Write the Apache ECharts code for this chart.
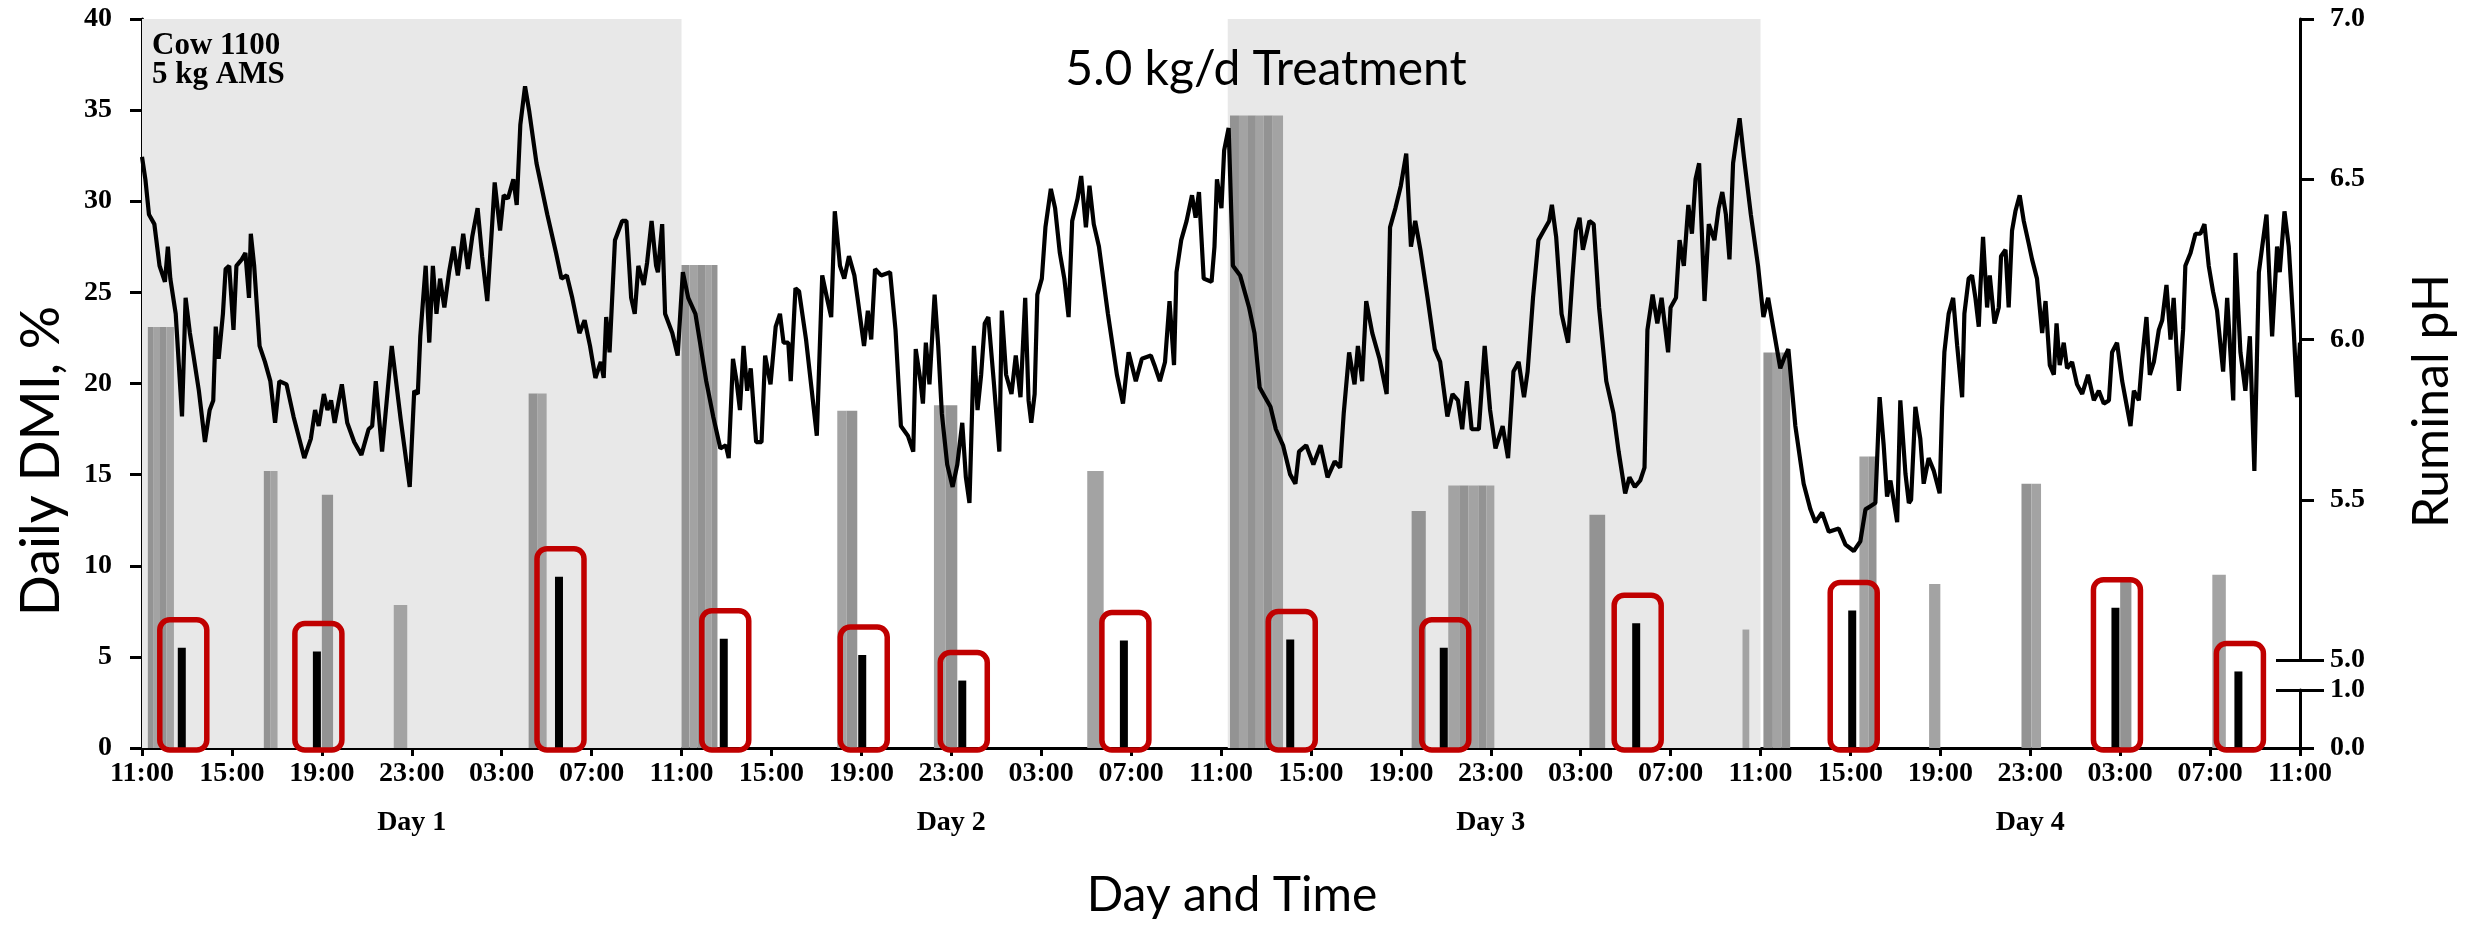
<!DOCTYPE html>
<html>
<head>
<meta charset="utf-8">
<script src="https://cdn.jsdelivr.net/npm/echarts@6/dist/echarts.min.js"></script>
<style>
html,body{margin:0;padding:0;background:#fff;}
#c{width:2483px;height:925px;}
</style>
</head>
<body>
<div id="c"></div>
<script>
// ---------------- data ----------------
const xTickLabels = ['11:00','15:00','19:00','23:00','03:00','07:00',
  '11:00','15:00','19:00','23:00','03:00','07:00',
  '11:00','15:00','19:00','23:00','03:00','07:00',
  '11:00','15:00','19:00','23:00','03:00','07:00','11:00'];
const dayLabels = ['Day 1','Day 2','Day 3','Day 4'];

// shaded treatment periods (hours from start)
const shadeStart = [0, 48.3];
const shadeEnd   = [24, 72];

// grey DMI bars (hours from start, DMI %)
const greyStart  = [0.26,0.52,0.80,1.08, 5.42,5.72, 8.0, 11.2, 17.2,17.6,
  24.0,24.35,24.7,25.05,25.35, 30.93,31.35, 35.23,35.75, 42.05,
  48.4,48.8,49.2,49.55,49.9,50.3, 56.48, 58.11,58.6,59.0,59.45,59.8,
  64.39, 71.2, 72.13,72.55,72.95, 76.4,76.8, 79.5, 83.61,84.05, 88.0, 92.1];
const greyEnd    = [0.52,0.80,1.08,1.42, 5.72,6.03, 8.5, 11.8, 17.6,18.0,
  24.35,24.7,25.05,25.35,25.6, 31.35,31.82, 35.75,36.27, 42.78,
  48.8,49.2,49.55,49.9,50.3,50.76, 57.11, 58.6,59.0,59.45,59.8,60.16,
  65.09, 71.5, 72.55,72.95,73.32, 76.8,77.16, 80.0, 84.05,84.48, 88.5, 92.7];
const greyHeight = [23.1,23.1,23.1,23.1, 15.2,15.2, 13.9, 7.85, 19.45,19.45,
  26.5,26.5,26.5,26.5,26.5, 18.5,18.5, 18.8,18.8, 15.2,
  34.7,34.7,34.7,34.7,34.7,34.7, 13.0, 14.4,14.4,14.4,14.4,14.4,
  12.8, 6.5, 21.7,21.7,21.7, 16.0,16.0, 9.0, 14.5,14.5, 9.2, 9.5];

// black (highlighted) DMI bars
const blackTime  = [1.77, 7.78, 18.55, 25.88, 32.04, 36.49, 43.68, 51.08, 57.91, 66.47, 76.08, 87.79, 93.26];
const blackValue = [5.5, 5.3, 9.4, 6.0, 5.1, 3.7, 5.9, 5.95, 5.5, 6.85, 7.55, 7.7, 4.2];

// ruminal pH trace
const phTime = [
0.00,0.15,0.31,0.55,0.78,1.02,1.15,1.26,1.50,1.78,1.94,2.13,2.29,2.53,2.80,3.01,3.17,3.28,3.41,3.60,
3.72,3.88,4.07,4.20,4.44,4.60,4.76,4.84,4.99,5.23,5.47,5.71,5.92,6.11,6.43,6.74,7.22,7.51,7.70,7.86,
8.09,8.25,8.41,8.57,8.89,9.13,9.44,9.76,10.08,10.24,10.40,10.68,11.11,11.51,11.91,12.11,12.27,12.38,12.62,12.78,
12.94,13.10,13.26,13.45,13.66,13.86,14.05,14.29,14.50,14.69,14.93,15.13,15.36,15.56,15.69,15.93,16.09,16.28,16.52,16.67,
16.83,17.04,17.23,17.55,18.03,18.42,18.66,18.90,19.14,19.46,19.69,19.93,20.17,20.41,20.54,20.65,20.80,21.04,21.36,21.55,
21.76,21.92,22.08,22.32,22.47,22.67,22.87,22.95,23.14,23.27,23.59,23.83,24.06,24.30,24.62,25.10,25.41,25.73,25.97,26.10,
26.29,26.45,26.60,26.76,26.92,27.08,27.32,27.56,27.72,27.96,28.19,28.38,28.54,28.75,28.86,29.07,29.23,29.54,30.02,30.26,
30.50,30.66,30.82,31.05,31.24,31.45,31.69,31.85,32.12,32.29,32.44,32.61,32.88,33.28,33.52,33.76,34.07,34.31,34.42,34.63,
34.74,34.87,35.03,35.26,35.42,35.58,35.82,36.06,36.27,36.49,36.65,36.81,37.01,37.17,37.33,37.49,37.65,37.89,38.14,38.25,
38.44,38.68,38.87,39.08,39.29,39.44,39.56,39.71,39.83,40.03,40.19,40.43,40.62,40.83,41.03,41.22,41.38,41.62,41.78,41.99,
42.15,42.34,42.57,42.97,43.37,43.64,43.89,44.21,44.48,44.88,45.04,45.28,45.51,45.71,45.91,46.02,46.23,46.47,46.71,46.87,
47.02,47.23,47.58,47.71,47.82,48.02,48.14,48.34,48.53,48.85,49.25,49.49,49.72,49.96,50.20,50.44,50.76,51.07,51.31,51.47,
51.79,52.11,52.43,52.74,53.06,53.30,53.46,53.70,53.94,54.09,54.28,54.46,54.73,55.05,55.37,55.52,55.76,56.00,56.24,56.45,
56.64,56.87,57.19,57.51,57.75,58.07,58.30,58.54,58.73,58.94,59.15,59.47,59.73,59.97,60.21,60.53,60.77,61.01,61.24,61.48,
61.64,61.88,62.12,62.36,62.60,62.72,62.91,63.15,63.44,63.63,63.79,63.95,64.10,64.39,64.58,64.82,65.14,65.46,65.69,65.98,
66.17,66.41,66.65,66.84,66.97,67.20,67.41,67.60,67.89,68.00,68.24,68.40,68.59,68.79,68.95,69.11,69.27,69.51,69.70,69.95,
70.14,70.30,70.46,70.62,70.78,70.94,71.07,71.26,71.57,71.89,72.13,72.34,72.61,72.88,73.04,73.24,73.55,73.92,74.22,74.44,
74.74,75.04,75.48,75.78,76.15,76.44,76.67,76.89,77.11,77.30,77.48,77.63,77.78,78.08,78.22,78.45,78.60,78.70,78.89,79.11,
79.26,79.48,79.71,79.97,80.08,80.18,80.37,80.57,80.75,80.97,81.07,81.26,81.41,81.56,81.71,81.78,81.90,82.08,82.20,82.41,
82.60,82.70,82.90,83.04,83.19,83.34,83.53,83.71,83.93,84.08,84.30,84.53,84.68,84.87,85.05,85.17,85.31,85.49,85.64,85.86,
86.08,86.31,86.57,86.83,87.05,87.27,87.50,87.64,87.86,88.09,88.46,88.61,88.83,88.98,89.17,89.32,89.50,89.72,89.87,90.06,
90.24,90.38,90.61,90.80,90.90,91.13,91.35,91.57,91.75,91.94,92.13,92.31,92.58,92.76,93.03,93.13,93.35,93.57,93.77,93.97,
94.17,94.32,94.51,94.76,94.98,95.10,95.31,95.50,95.72,95.87,96.00];
const phValue = [
6.57,6.50,6.39,6.36,6.23,6.18,6.29,6.19,6.08,5.76,6.13,6.02,5.95,5.84,5.68,5.78,5.81,6.04,5.94,6.08,
6.22,6.23,6.03,6.23,6.25,6.27,6.13,6.33,6.23,5.98,5.93,5.87,5.74,5.87,5.86,5.76,5.63,5.69,5.78,5.73,
5.83,5.78,5.81,5.74,5.86,5.74,5.68,5.64,5.72,5.73,5.87,5.65,5.98,5.75,5.54,5.84,5.83,6.01,6.23,5.99,
6.23,6.08,6.19,6.10,6.21,6.29,6.20,6.33,6.22,6.32,6.41,6.26,6.12,6.34,6.49,6.34,6.45,6.44,6.50,6.42,
6.67,6.79,6.71,6.55,6.39,6.27,6.19,6.20,6.13,6.02,6.06,5.98,5.88,5.93,5.88,6.07,5.96,6.31,6.37,6.37,
6.13,6.08,6.23,6.17,6.24,6.37,6.23,6.21,6.36,6.08,6.02,5.95,6.21,6.13,6.08,5.87,5.76,5.66,5.67,5.63,
5.94,5.87,5.78,5.98,5.84,5.91,5.68,5.68,5.95,5.86,6.04,6.08,5.99,5.99,5.87,6.16,6.15,6.00,5.70,6.20,
6.12,6.07,6.40,6.23,6.19,6.26,6.20,6.12,5.98,6.09,6.00,6.22,6.20,6.21,6.03,5.73,5.70,5.65,5.97,5.87,
5.80,5.99,5.86,6.14,5.98,5.77,5.61,5.54,5.61,5.74,5.57,5.49,5.98,5.78,5.89,6.05,6.07,5.87,5.65,6.09,
5.89,5.83,5.95,5.82,6.13,5.81,5.74,5.83,6.14,6.19,6.35,6.47,6.41,6.27,6.19,6.07,6.37,6.44,6.51,6.35,
6.48,6.36,6.29,6.08,5.89,5.80,5.96,5.87,5.94,5.95,5.92,5.87,5.93,6.12,5.92,6.21,6.31,6.37,6.45,6.38,
6.46,6.19,6.18,6.29,6.50,6.41,6.59,6.66,6.23,6.20,6.10,6.02,5.85,5.82,5.79,5.72,5.67,5.58,5.55,5.65,
5.67,5.61,5.67,5.57,5.62,5.60,5.77,5.96,5.86,5.98,5.87,6.12,6.02,5.94,5.83,6.35,6.41,6.48,6.58,6.29,
6.37,6.28,6.13,5.97,5.93,5.76,5.83,5.81,5.72,5.87,5.72,5.72,5.98,5.78,5.66,5.73,5.63,5.90,5.93,5.82,
5.90,6.13,6.31,6.34,6.37,6.42,6.32,6.08,5.99,6.19,6.34,6.38,6.28,6.37,6.36,6.10,5.87,5.77,5.65,5.52,
5.57,5.54,5.56,5.60,6.03,6.14,6.05,6.13,5.96,6.10,6.13,6.31,6.23,6.42,6.33,6.50,6.55,6.12,6.36,6.31,
6.41,6.46,6.39,6.25,6.55,6.63,6.69,6.57,6.39,6.23,6.07,6.13,6.02,5.91,5.94,5.97,5.73,5.55,5.47,5.43,
5.46,5.40,5.41,5.36,5.34,5.37,5.47,5.48,5.49,5.82,5.67,5.51,5.56,5.43,5.81,5.58,5.49,5.50,5.79,5.69,
5.55,5.63,5.59,5.52,5.79,5.96,6.08,6.13,5.98,5.82,6.08,6.19,6.20,6.13,6.04,6.16,6.32,6.10,6.20,6.05,
6.10,6.26,6.28,6.10,6.34,6.40,6.45,6.37,6.30,6.25,6.19,6.02,6.12,5.92,5.89,6.05,5.92,5.99,5.91,5.93,
5.86,5.83,5.89,5.81,5.84,5.80,5.81,5.96,5.99,5.87,5.73,5.84,5.81,5.94,6.07,5.89,5.93,6.03,6.06,6.17,
6.00,6.13,5.84,6.03,6.23,6.27,6.33,6.33,6.36,6.23,6.15,6.09,5.90,6.13,5.81,6.27,5.96,5.84,6.01,5.59,
6.21,6.29,6.39,6.01,6.29,6.21,6.40,6.29,6.03,5.82,5.99];

// ---------------- chart ----------------
const SERIF = 'Liberation Serif';
const SANS = 'Lato';
const tickFont = {fontFamily: SERIF, fontWeight: 'bold', fontSize: 28, color: '#000'};
const axisLineStyle = {show: true, onZero: false, lineStyle: {color: '#000', width: 3}};

const chart = echarts.init(document.getElementById('c'), null, {renderer: 'canvas'});

const greyData = greyStart.map((s, i) => [s, greyEnd[i], greyHeight[i]]);
const blackData = blackTime.map((t, i) => [t, blackValue[i]]);
const phData = phTime.map((t, i) => [t, phValue[i]]);
const shadeData = shadeStart.map((s, i) => [{xAxis: s}, {xAxis: shadeEnd[i]}]);
const greyShades = ['#939393', '#a3a3a3'];

function breakAxis(grid, min, max, val, inside) {
  return {
    gridIndex: grid, type: 'value', position: 'right', min: min, max: max,
    axisLine: {show: false, onZero: false},
    axisLabel: {show: false},
    splitLine: {show: false},
    axisTick: {show: true, inside: inside, length: 24, customValues: [val],
      lineStyle: {color: '#000', width: 3}}
  };
}

const option = {
  animation: false,
  backgroundColor: '#fff',
  textStyle: {fontFamily: SERIF},
  grid: [
    {left: 142, right: 183, top: 19, bottom: 177, outerBoundsMode: 'none'},
    {left: 142, right: 183, top: 19, bottom: 265, outerBoundsMode: 'none'},
    {left: 142, right: 183, top: 690, bottom: 177, outerBoundsMode: 'none'}
  ],
  xAxis: [
    {
      gridIndex: 0, type: 'value', min: 0, max: 96, interval: 4, position: 'bottom',
      axisLine: axisLineStyle,
      axisTick: {show: true, length: 8, lineStyle: {color: '#000', width: 3}},
      axisLabel: Object.assign({margin: 12, showMinLabel: true, showMaxLabel: true,
        formatter: v => xTickLabels[Math.round(v / 4)]}, tickFont),
      splitLine: {show: false}
    },
    {
      gridIndex: 0, type: 'category', data: dayLabels, position: 'bottom', boundaryGap: true,
      axisLine: {show: false}, axisTick: {show: false},
      axisLabel: Object.assign({margin: 61, interval: 0}, tickFont),
      splitLine: {show: false}
    },
    {gridIndex: 1, type: 'value', min: 0, max: 96, show: false},
    {gridIndex: 2, type: 'value', min: 0, max: 96, show: false}
  ],
  yAxis: [
    {
      gridIndex: 0, type: 'value', position: 'left', min: 0, max: 40, interval: 5,
      axisLine: axisLineStyle,
      axisTick: {show: true, length: 12, lineStyle: {color: '#000', width: 3}},
      axisLabel: Object.assign({margin: 30}, tickFont),
      splitLine: {show: false}
    },
    {
      gridIndex: 1, type: 'value', position: 'right', min: 5, max: 7, interval: 0.5,
      axisLine: axisLineStyle,
      axisTick: {show: true, length: 14, lineStyle: {color: '#000', width: 3}},
      axisLabel: Object.assign({margin: 30, formatter: v => v.toFixed(1)}, tickFont),
      splitLine: {show: false}
    },
    {
      gridIndex: 2, type: 'value', position: 'right', min: 0, max: 1, interval: 1,
      axisLine: axisLineStyle,
      axisTick: {show: true, length: 14, lineStyle: {color: '#000', width: 3}},
      axisLabel: Object.assign({margin: 30, formatter: v => v.toFixed(1)}, tickFont),
      splitLine: {show: false}
    },
    breakAxis(1, 5, 7, 5, true),
    breakAxis(1, 5, 7, 5, false),
    breakAxis(2, 0, 1, 1, true),
    breakAxis(2, 0, 1, 1, false)
  ],
  series: [
    {
      name: 'shade', type: 'line', xAxisIndex: 0, yAxisIndex: 0, data: [], z: 1,
      markArea: {silent: true, itemStyle: {color: '#e8e8e8'}, data: shadeData}
    },
    {
      name: 'DMI', type: 'custom', xAxisIndex: 0, yAxisIndex: 0, z: 2,
      data: greyData,
      encode: {x: [0, 1], y: 2},
      renderItem: function (params, api) {
        const s = api.coord([api.value(0), api.value(2)]);
        const e = api.coord([api.value(1), 0]);
        return {type: 'rect', shape: {x: s[0], y: s[1], width: e[0] - s[0], height: e[1] - s[1]},
          style: {fill: greyShades[params.dataIndex % 2]}};
      }
    },
    {
      name: 'Ruminal pH', type: 'line', xAxisIndex: 2, yAxisIndex: 1, z: 4,
      data: phData, showSymbol: false, symbol: 'none', clip: false,
      lineStyle: {color: '#000', width: 4.2}
    },
    {
      name: 'Highlighted DMI', type: 'bar', xAxisIndex: 0, yAxisIndex: 0, z: 5,
      data: blackData, barWidth: 8, itemStyle: {color: '#000'}
    },
    {
      name: 'boxes', type: 'custom', xAxisIndex: 0, yAxisIndex: 0, z: 6,
      data: blackData, encode: {x: 0, y: 1}, silent: true,
      renderItem: function (params, api) {
        const top = api.coord([api.value(0), api.value(1)]);
        const base = api.coord([api.value(0), 0]);
        return {type: 'rect',
          shape: {x: top[0] - 22, y: top[1] - 28, width: 47, height: base[1] - top[1] + 30, r: 10},
          style: {fill: 'none', stroke: '#c00000', lineWidth: 5.5}};
      }
    }
  ],
  graphic: [
    {type: 'text', x: 1266, y: 70, z: 100,
      style: {text: '5.0 kg/d Treatment', fontFamily: SANS, fontSize: 48, fill: '#000', align: 'center', verticalAlign: 'middle'}},
    {type: 'text', x: 1232, y: 896, z: 100,
      style: {text: 'Day and Time', fontFamily: SANS, fontSize: 48, fill: '#000', align: 'center', verticalAlign: 'middle'}},
    {type: 'text', x: 42, y: 461, rotation: Math.PI / 2, z: 100,
      style: {text: 'Daily DMI, %', fontFamily: SANS, fontSize: 54, fill: '#000', align: 'center', verticalAlign: 'middle'}},
    {type: 'text', x: 2432, y: 401, rotation: Math.PI / 2, z: 100,
      style: {text: 'Ruminal pH', fontFamily: SANS, fontSize: 50, fill: '#000', align: 'center', verticalAlign: 'middle'}},
    {type: 'text', x: 152, y: 46, z: 100,
      style: {text: 'Cow 1100', fontFamily: SERIF, fontWeight: 'bold', fontSize: 31, fill: '#000', align: 'left', verticalAlign: 'middle'}},
    {type: 'text', x: 152, y: 75, z: 100,
      style: {text: '5 kg AMS', fontFamily: SERIF, fontWeight: 'bold', fontSize: 31, fill: '#000', align: 'left', verticalAlign: 'middle'}}
  ]
};
chart.setOption(option);
</script>
</body>
</html>
